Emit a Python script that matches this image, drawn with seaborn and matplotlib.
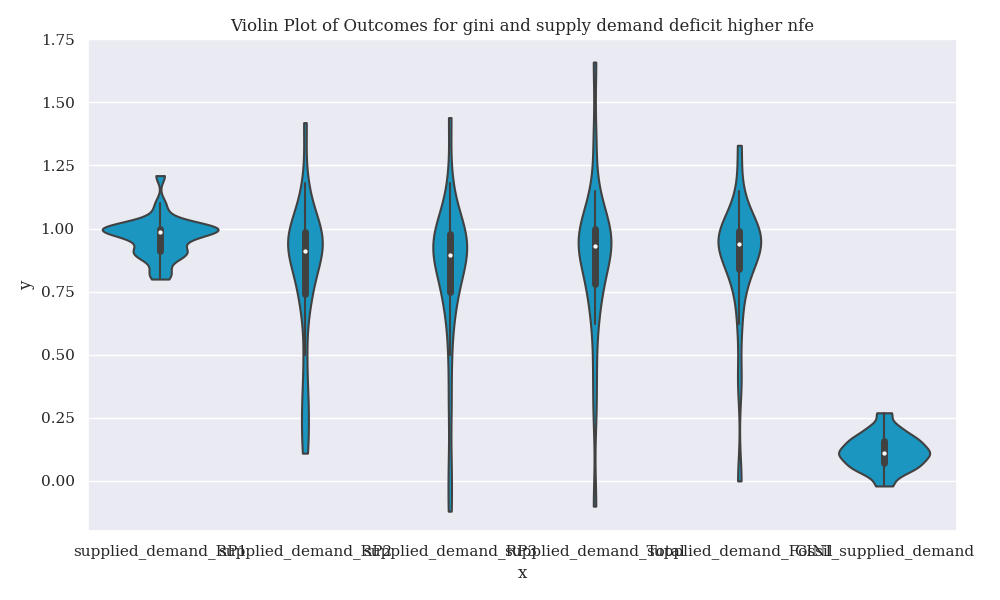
import matplotlib
matplotlib.use("Agg")
import matplotlib.pyplot as plt
import seaborn as sns
import pandas as pd

categories = ["supplied_demand_RP1", "supplied_demand_RP2", "supplied_demand_RP3",
              "supplied_demand_Total", "supplied_demand_Fossil", "GINI_supplied_demand"]

g1 = [0.80, 0.82, 0.84, 0.88, 0.89, 0.90, 0.90, 0.91, 0.92, 0.93, 0.95, 0.96, 0.97, 0.98,
      0.98, 0.99, 0.99, 1.00, 1.00, 1.00, 1.00, 1.00, 1.00, 1.01, 1.01, 1.02, 1.03, 1.06, 1.10, 1.21]
g2 = [0.11, 0.18, 0.28, 0.34, 0.50, 0.68, 0.72, 0.76, 0.80, 0.84, 0.87, 0.89, 0.90, 0.91,
      0.92, 0.94, 0.95, 0.96, 0.97, 0.98, 0.99, 1.00, 1.02, 1.05, 1.10, 1.18, 1.42]
g3 = [-0.12, 0.05, 0.30, 0.50, 0.65, 0.70, 0.74, 0.78, 0.82, 0.85, 0.87, 0.88, 0.89, 0.90,
      0.92, 0.94, 0.95, 0.96, 0.97, 0.98, 0.99, 1.00, 1.03, 1.08, 1.18, 1.44]
g4 = [-0.10, 0.28, 0.45, 0.62, 0.70, 0.74, 0.78, 0.82, 0.86, 0.89, 0.91, 0.92, 0.93, 0.94,
      0.95, 0.96, 0.97, 0.99, 1.00, 1.02, 1.04, 1.08, 1.15, 1.35, 1.66]
g5 = [0.00, 0.40, 0.62, 0.75, 0.81, 0.84, 0.87, 0.90, 0.92, 0.93, 0.94, 0.95, 0.96, 0.97,
      0.98, 0.99, 1.00, 1.02, 1.05, 1.15, 1.33]
g6 = [-0.02, 0.02, 0.04, 0.05, 0.06, 0.07, 0.08, 0.09, 0.10, 0.11, 0.11, 0.12, 0.13, 0.14,
      0.15, 0.16, 0.17, 0.18, 0.20, 0.22, 0.27]

groups = [g1, g2, g3, g4, g5, g6]
rows = [(c, v) for c, g in zip(categories, groups) for v in g]
df = pd.DataFrame(rows, columns=["x", "y"])

sns.set_theme(style="darkgrid")
plt.rcParams["font.family"] = ["DejaVu Serif"]

fig, ax = plt.subplots(figsize=(10, 6), dpi=100)
sns.violinplot(data=df, x="x", y="y", color="#1a96c0", saturation=1, linewidth=1.5,
               ax=ax, order=categories, cut=0, bw_adjust=0.6,
               inner_kws=dict(box_width=5, whis_width=1.5, marker="."))
ax.set_title("Violin Plot of Outcomes for gini and supply demand deficit higher nfe")
ax.set_ylim(-0.2, 1.75)
ax.set_yticks([0, 0.25, 0.5, 0.75, 1.0, 1.25, 1.5, 1.75])
ax.set_xlabel("x")
ax.set_ylabel("y")
plt.tight_layout()
fig.savefig("out.png")
